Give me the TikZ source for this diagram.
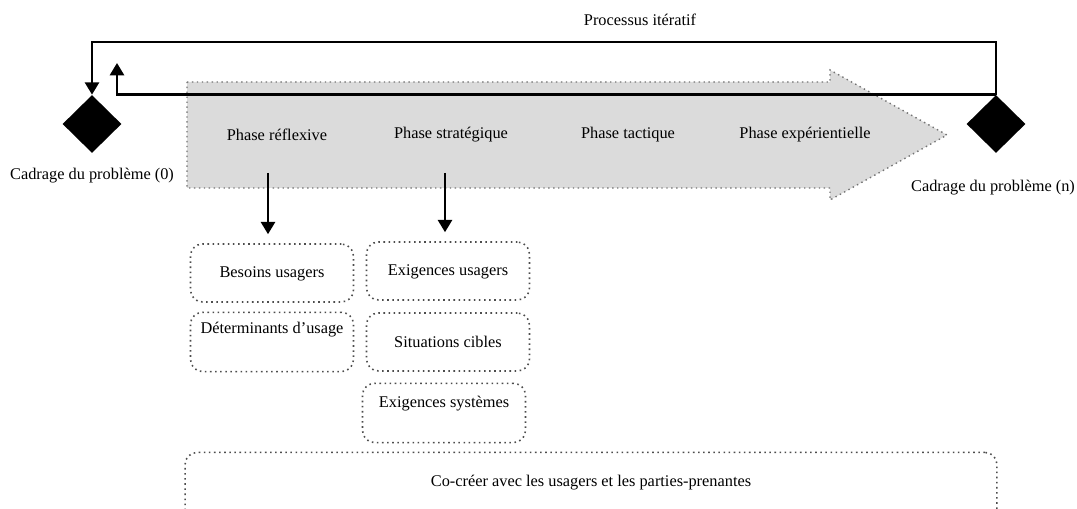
\documentclass[tikz,border=0pt]{standalone}
\usepackage{fontspec}
\setmainfont{Liberation Serif}
\usetikzlibrary{arrows.meta,shapes.geometric,positioning}

\begin{document}
\begin{tikzpicture}[x=0.02cm,y=-0.02cm,
  every node/.style={font=\fontsize{9.3}{11}\selectfont},
  arr/.style={line width=1.4pt,-{Triangle[length=7pt,width=8pt]}},
  dia/.style={diamond,fill=black,minimum width=1.18cm,minimum height=1.16cm,inner sep=0pt},
  box/.style={draw=black!70,dotted,line width=0.9pt,rounded corners=0.24cm,minimum width=3.26cm,minimum height=1.16cm,text height=0.24cm},
  topbox/.style={box,text height=0.3cm,text depth=0.65cm}]

\useasboundingbox (0,0) rectangle (1077,509);
\clip (0,0) rectangle (1077,509);

% grande fleche des phases
\draw[fill=black!14,draw=black!55,dotted,line width=0.8pt] (187,82) -- (830,82) -- (830,70) -- (947,135) -- (830,200) -- (830,188) -- (187,188) -- cycle;

\node (refl) at (277,135) {Phase réflexive};
\node (strat) at (451,135) {Phase stratégique};
\node (tact) at (628,135) {Phase tactique};
\node (exper) at (805,135) {Phase expérientielle};

\node[dia] (d0) at (92,124) {};
\node[dia] (dn) at (996,124) {};
\node (cad0) at (92,176) {Cadrage du problème (0)};
\node (cadn) at (993,188) {Cadrage du problème (n)};

\node (iter) at (640,20) {Processus itératif};
\coordinate (top) at (640,42);
\coordinate (back) at (117,63);
\draw[arr] (dn.north) -- (dn.north |- top) -| (d0.north);
\draw[arr] (dn.north) -| (back);

\node[box] (besoins) at (272,273) {Besoins usagers};
\node[topbox] (determ) at (272,342) {Déterminants d’usage};
\node[box] (exusag) at (448,271) {Exigences usagers};
\node[box] (situ) at (448,342) {Situations cibles};
\node[topbox,text height=0.36cm,text depth=0.59cm] (exsys) at (444,413) {Exigences systèmes};
\node[box,minimum width=16.24cm,minimum height=1.6cm,text height=0.57cm,text depth=0.82cm] (cocreer) at (591,493) {Co-créer avec les usagers et les parties-prenantes};

\coordinate (s1) at (268,173);
\coordinate (s2) at (445,173);
\draw[arr,shorten >=0.18cm] (s1) -- (s1 |- besoins.north);
\draw[arr,shorten >=0.18cm] (s2) -- (s2 |- exusag.north);
\end{tikzpicture}
\end{document}
